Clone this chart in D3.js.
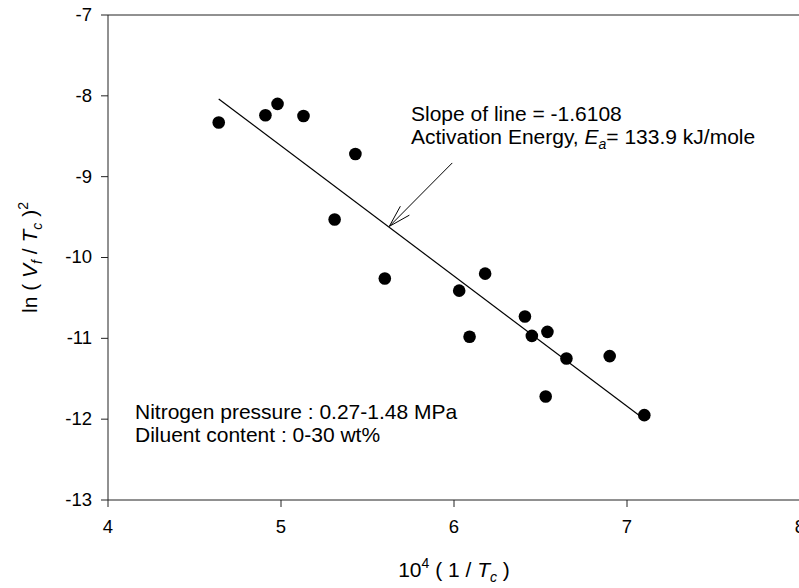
<!DOCTYPE html>
<html>
<head>
<meta charset="utf-8">
<script src="https://cdn.jsdelivr.net/npm/d3@7"></script>
<style>
  html, body { margin: 0; padding: 0; background: #fff; }
  svg { display: block; font-family: "Liberation Sans", Arial, sans-serif; }
</style>
</head>
<body>
<svg id="chart" width="799" height="588"></svg>
<script>
// ---- data ----
const xVals = [4.64, 4.91, 4.98, 5.13, 5.43, 5.31, 5.60, 6.03, 6.18, 6.09, 6.41, 6.45, 6.54, 6.65, 6.90, 6.53, 7.10];
const yVals = [-8.33, -8.24, -8.10, -8.25, -8.72, -9.53, -10.26, -10.41, -10.20, -10.98, -10.73, -10.97, -10.92, -11.25, -11.22, -11.72, -11.95];
const fitX = [4.64, 7.10];
const fitY = [-8.04, -12.00];
const xTicks = [4, 5, 6, 7, 8];
const yTicks = [-7, -8, -9, -10, -11, -12, -13];
const arrowFrom = [5.99, -8.83];
const arrowTo = [5.626, -9.615];
const slopeText = "Slope of line = -1.6108";
const noteLines = ["Nitrogen pressure : 0.27-1.48 MPa", "Diluent content : 0-30 wt%"];

(function () {
// ---- layout ----
const svg = d3.select("#chart");
const mL = 108, mR = 800, mT = 15, mB = 500;
const x = d3.scaleLinear().domain([4, 8]).range([mL, mR]);
const y = d3.scaleLinear().domain([-13, -7]).range([mB, mT]);

const tickFont = 18.5, textFont = 21, subFont = 14;

// axes
const gx = svg.append("g").attr("transform", `translate(0,${mB})`)
  .call(d3.axisBottom(x).tickValues(xTicks).tickFormat(d3.format("d")).tickSizeInner(7).tickSizeOuter(0).tickPadding(13).offset(0));
const gy = svg.append("g").attr("transform", `translate(${mL},0)`)
  .call(d3.axisLeft(y).tickValues(yTicks).tickFormat(d3.format("d")).tickSizeInner(7).tickSizeOuter(0).tickPadding(9).offset(0));
[gx, gy].forEach(g => {
  g.selectAll("path.domain").attr("stroke", "#222");
  g.selectAll(".tick line").attr("stroke", "#222");
  g.selectAll(".tick text").attr("font-size", tickFont).attr("fill", "#000")
    .attr("font-family", '"Liberation Sans", Arial, sans-serif');
});
gy.selectAll(".tick text").text(d => d < 0 ? "-" + Math.abs(d) : d);
// frame top and right
svg.append("line").attr("x1", mL).attr("x2", mR).attr("y1", mT).attr("y2", mT).attr("stroke", "#222");
svg.append("line").attr("x1", mR).attr("x2", mR).attr("y1", mT).attr("y2", mB).attr("stroke", "#222");

// regression line
svg.append("line")
  .attr("x1", x(fitX[0])).attr("y1", y(fitY[0]))
  .attr("x2", x(fitX[1])).attr("y2", y(fitY[1]))
  .attr("stroke", "#000").attr("stroke-width", 1.2);

// points
svg.append("g").selectAll("circle").data(xVals.map((v, i) => [v, yVals[i]]))
  .join("circle")
  .attr("cx", d => x(d[0])).attr("cy", d => y(d[1])).attr("r", 6.3).attr("fill", "#000");

// arrow
const ax1 = x(arrowFrom[0]), ay1 = y(arrowFrom[1]), ax2 = x(arrowTo[0]), ay2 = y(arrowTo[1]);
svg.append("line").attr("x1", ax1).attr("y1", ay1).attr("x2", ax2).attr("y2", ay2)
  .attr("stroke", "#000").attr("stroke-width", 1);
const ang = Math.atan2(ay1 - ay2, ax1 - ax2);
const hl = 23, spread = 16 * Math.PI / 180;
[ang - spread, ang + spread].forEach(a => {
  svg.append("line").attr("x1", ax2).attr("y1", ay2)
    .attr("x2", ax2 + hl * Math.cos(a)).attr("y2", ay2 + hl * Math.sin(a))
    .attr("stroke", "#000").attr("stroke-width", 1);
});

// annotation text
svg.append("text").attr("x", 411).attr("y", 121).attr("font-size", textFont).text(slopeText);
const t2 = svg.append("text").attr("x", 411).attr("y", 144).attr("font-size", textFont);
t2.append("tspan").text("Activation Energy, ");
t2.append("tspan").attr("font-style", "italic").text("E");
t2.append("tspan").attr("font-size", subFont).attr("font-style", "italic").attr("dy", 5).text("a");
t2.append("tspan").attr("dy", -5).text("= 133.9 kJ/mole");

noteLines.forEach((s, i) => {
  svg.append("text").attr("x", 135).attr("y", 419 + i * 23).attr("font-size", textFont).text(s);
});

// x title
const xt = svg.append("text").attr("x", (mL + mR) / 2).attr("y", 577)
  .attr("text-anchor", "middle").attr("font-size", textFont);
xt.append("tspan").text("10");
xt.append("tspan").attr("font-size", subFont).attr("dy", -9).text("4");
xt.append("tspan").attr("dy", 9).text(" ( 1 / ");
xt.append("tspan").attr("font-style", "italic").text("T");
xt.append("tspan").attr("font-size", subFont).attr("font-style", "italic").attr("dy", 5).text("c");
xt.append("tspan").attr("dy", -5).text(" )");

// y title
const yt = svg.append("text").attr("transform", `translate(37,${(mT + mB) / 2}) rotate(-90)`)
  .attr("text-anchor", "middle").attr("font-size", textFont);
yt.append("tspan").text("ln ( ");
yt.append("tspan").attr("font-style", "italic").text("V");
yt.append("tspan").attr("font-size", subFont).attr("font-style", "italic").attr("dy", 5).text("f");
yt.append("tspan").attr("dy", -5).text(" / ");
yt.append("tspan").attr("font-style", "italic").text("T");
yt.append("tspan").attr("font-size", subFont).attr("font-style", "italic").attr("dy", 5).text("c");
yt.append("tspan").attr("dy", -5).text(" )");
yt.append("tspan").attr("font-size", subFont).attr("dy", -9).text("2");
})();
</script>
</body>
</html>
